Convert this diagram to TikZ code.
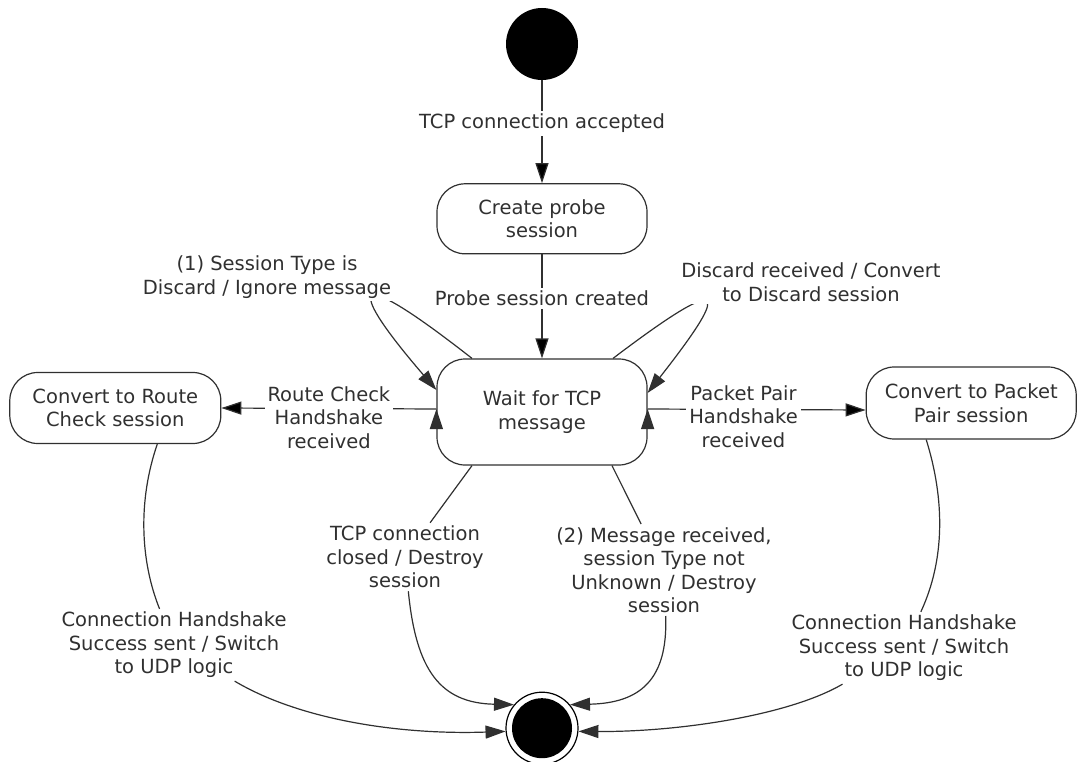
\documentclass[tikz,border=0pt]{standalone}
\usepackage{fontspec}
\setmainfont{DejaVu Sans}
\usetikzlibrary{arrows.meta, positioning}
\definecolor{linegray}{HTML}{303030}

\begin{document}
\begin{tikzpicture}[
x=1pt, y=-1pt,
>={Triangle[length=20pt, width=13pt]},
every node/.style={font=\fontsize{19.5}{23.5}\selectfont},
statenode/.style={rectangle, rounded corners=28pt, draw=linegray, line width=1.2pt, minimum width=210pt, minimum height=70pt, align=center, text=linegray},
startnode/.style={circle, fill=black, minimum size=72pt, inner sep=0pt},
endnode/.style={circle, draw=black, line width=1.2pt, minimum size=72pt, inner sep=0pt, path picture={\fill[black] (path picture bounding box.center) circle (30pt);}},
labelnode/.style={fill=white, inner sep=3pt, align=center, text=linegray},
trans/.style={draw=linegray, line width=1.2pt}
]
\useasboundingbox (0,0) rectangle (1079,762);

\node[startnode] (init) at (542,44) {};
\node[statenode] (create) [below=103pt of init] {Create probe\\session};
\node[statenode, minimum height=106pt] (wait) [below=104pt of create] {Wait for TCP\\message};
\node[statenode, minimum width=211pt, minimum height=71pt] (route) [left=215pt of wait, yshift=4pt] {Convert to Route\\Check session};
\node[statenode, minimum height=72pt] (pair) [right=218pt of wait, yshift=9pt] {Convert to Packet\\Pair session};
\node[endnode] (final) [below=226pt of wait] {};

\path[->, trans] (init) edge node[labelnode, pos=0.42] {TCP connection accepted} (create);
\path[->, trans] (create) edge node[labelnode, pos=0.42] {Probe session created} (wait);
\path[->, trans] ([yshift=3pt]wait.west) edge node[labelnode, pos=0.5, yshift=-9pt] {Route Check\\Handshake\\received} (route.east);
\path[->, trans] ([yshift=3pt]wait.east) edge node[labelnode, pos=0.44, yshift=-7pt] {Packet Pair\\Handshake\\received} ([yshift=-7pt]pair.west);

\draw[->, trans] ([xshift=-70pt]wait.north) .. controls (340,255) and (352,292) .. ([yshift=22pt]wait.west);
\draw[->, trans] ([xshift=71pt]wait.north) .. controls (740,262) and (722,298) .. ([yshift=19pt]wait.east);
\node[labelnode] (lbl_ignore) at (267,277) {(1) Session Type is\\Discard / Ignore message};
\node[labelnode] (lbl_convert) at (811,282) {Discard received / Convert\\to Discard session};

\node[labelnode] (lbl_closed) at (405,557) {TCP connection\\closed / Destroy\\session};
\node[labelnode] (lbl_unknown) at (664,570) {(2) Message received,\\session Type not\\Unknown / Destroy\\session};
\node[labelnode] (lbl_udp_route) at (174,645) {Connection Handshake\\Success sent / Switch\\to UDP logic};
\node[labelnode] (lbl_udp_pair) at (904,648) {Connection Handshake\\Success sent / Switch\\to UDP logic};

\draw[trans] ([xshift=-70pt]wait.south) -- (lbl_closed);
\draw[->, trans] (lbl_closed) .. controls (416,670) and (440,703) .. (final.140);
\draw[trans] ([xshift=70pt]wait.south) -- (lbl_unknown);
\draw[->, trans] (lbl_unknown) .. controls (668,680) and (640,703) .. (final.40);

\draw[trans] ([xshift=42pt]route.south) .. controls (138,500) and (140,560) .. (lbl_udp_route);
\draw[->, trans] (lbl_udp_route) .. controls (300,720) and (400,735) .. (final.185);
\draw[trans] ([xshift=-45pt]pair.south) .. controls (945,500) and (945,560) .. (lbl_udp_pair);
\draw[->, trans] (lbl_udp_pair) .. controls (790,715) and (680,732) .. (final.355);

\end{tikzpicture}
\end{document}
